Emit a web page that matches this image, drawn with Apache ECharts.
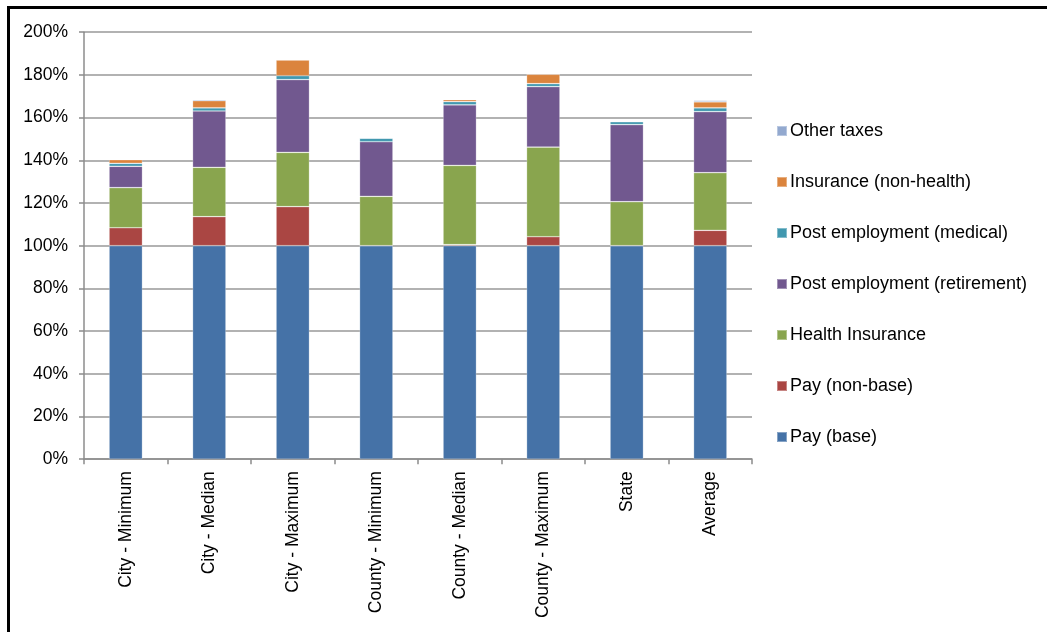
<!DOCTYPE html>
<html>
<head>
<meta charset="utf-8">
<style>
  html, body { margin: 0; padding: 0; background: #fff; }
  #chart { width: 1047px; height: 632px; }
</style>
<script src="https://cdn.jsdelivr.net/npm/echarts@6/dist/echarts.min.js"></script>
</head>
<body>
<div id="chart"></div>
<script>
// Total compensation as a share of base pay, by jurisdiction group
const categories = [
  'City - Minimum', 'City - Median', 'City - Maximum',
  'County - Minimum', 'County - Median', 'County - Maximum',
  'State', 'Average'
];

const payBase       = [100, 100, 100, 100, 100, 100, 100, 100];
const payNonBase    = [8.4, 13.6, 18.3, 0, 0.5, 4.2, 0, 7.2];
const healthIns     = [18.8, 23.1, 25.4, 23.1, 37.1, 42.0, 20.6, 27.0];
const postRetire    = [10.0, 26.4, 34.1, 25.6, 28.4, 28.3, 36.1, 28.6];
const postMedical   = [1.4, 1.5, 1.8, 1.7, 1.5, 1.4, 1.4, 1.8];
const insNonHealth  = [1.7, 3.3, 7.4, 0, 0.9, 4.4, 0, 2.8];
const otherTaxes    = [0.3, 0.5, 0, 0, 0.3, 0, 0.3, 0.7];

const yTicks = { min: 0, max: 200, step: 20 };

const seriesDefs = [
  { name: 'Pay (base)', data: payBase, color: '#4572A7' },
  { name: 'Pay (non-base)', data: payNonBase, color: '#AA4643' },
  { name: 'Health Insurance', data: healthIns, color: '#89A54E' },
  { name: 'Post employment (retirement)', data: postRetire, color: '#71588F' },
  { name: 'Post employment (medical)', data: postMedical, color: '#4198AF' },
  { name: 'Insurance (non-health)', data: insNonHealth, color: '#DB843D' },
  { name: 'Other taxes', data: otherTaxes, color: '#93A9CF' }
];

const FONT = 'Liberation Sans, Arial, sans-serif';
const chart = echarts.init(document.getElementById('chart'), null, { renderer: 'canvas' });

chart.setOption({
  animation: false,
  backgroundColor: '#fff',
  textStyle: { fontFamily: FONT, color: '#000' },
  graphic: [{
    type: 'rect',
    shape: { x: 8.5, y: 7.5, width: 1100, height: 700 },
    style: { fill: 'none', stroke: '#000', lineWidth: 3 },
    silent: true,
    z: 100
  }],
  grid: { left: 84, right: 295, top: 32.2, bottom: 172.8, containLabel: false },
  legend: {
    orient: 'vertical',
    left: 771,
    top: 116,
    itemGap: 31,
    itemWidth: 10,
    itemHeight: 10,
    icon: 'rect',
    data: seriesDefs.map(s => s.name).reverse(),
    textStyle: { fontFamily: FONT, fontSize: 18, color: '#000', lineHeight: 20, padding: [0, 0, 0, -2] }
  },
  xAxis: {
    type: 'category',
    data: categories,
    boundaryGap: true,
    axisLine: { lineStyle: { color: '#8c8c8c', width: 1.5 } },
    axisTick: { show: true, length: 5, lineStyle: { color: '#8c8c8c', width: 1.5 } },
    axisLabel: { rotate: 90, margin: 12, fontSize: 17.5, color: '#000', fontFamily: FONT, interval: 0 }
  },
  yAxis: {
    type: 'value',
    min: yTicks.min,
    max: yTicks.max,
    interval: yTicks.step,
    axisLine: { show: true, lineStyle: { color: '#8c8c8c', width: 1.5 } },
    axisTick: { show: true, length: 5, lineStyle: { color: '#8c8c8c', width: 1.5 } },
    axisLabel: { formatter: '{value}%', margin: 16, fontSize: 17.5, color: '#000', fontFamily: FONT },
    splitLine: { show: true, lineStyle: { color: '#999', width: 1.5 } }
  },
  series: seriesDefs.map(s => ({
    name: s.name,
    type: 'bar',
    stack: 'total',
    barWidth: '40%',
    data: s.data,
    itemStyle: { color: s.color, borderColor: 'rgba(255,255,255,0.35)', borderWidth: 0.7 },
    emphasis: { disabled: true }
  }))
});
</script>
</body>
</html>
